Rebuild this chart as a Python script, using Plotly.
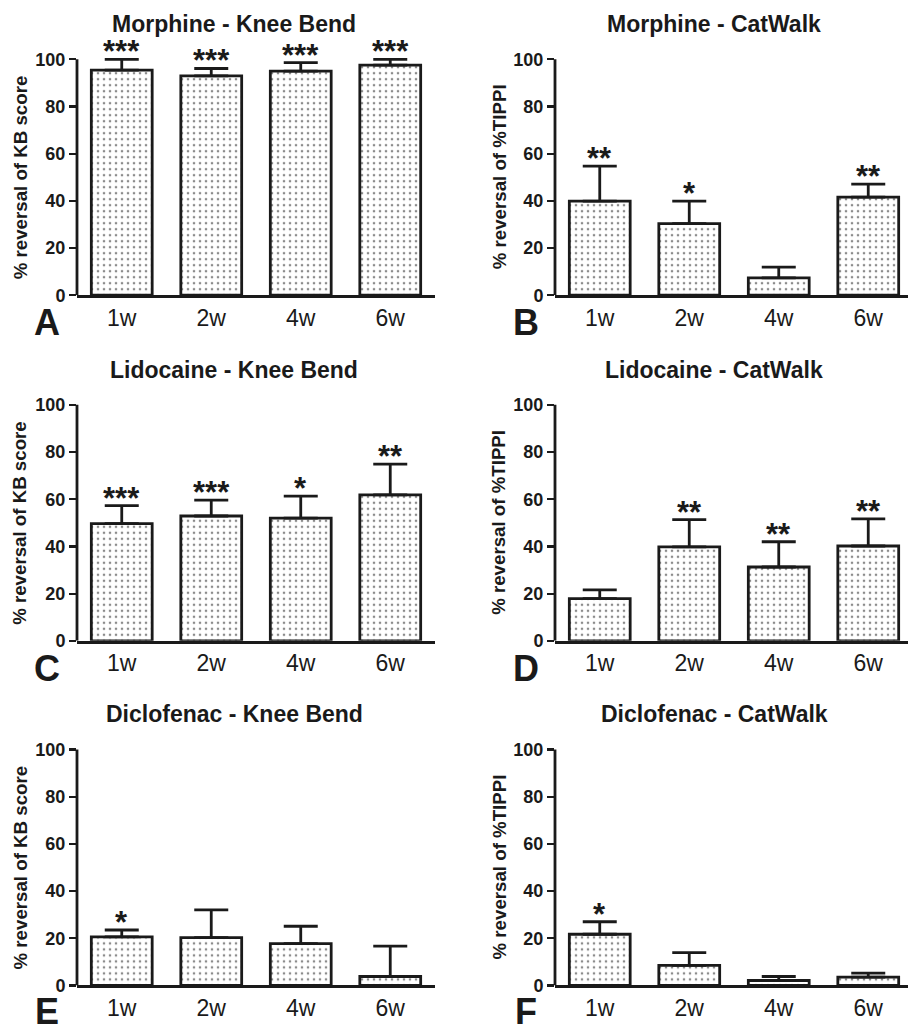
import plotly.graph_objects as go

W, H = 908, 1032

categories = ["1w", "2w", "4w", "6w"]

titles = ["Morphine - Knee Bend", "Morphine - CatWalk",
          "Lidocaine - Knee Bend", "Lidocaine - CatWalk",
          "Diclofenac - Knee Bend", "Diclofenac - CatWalk"]
letters = ["A", "B", "C", "D", "E", "F"]
ytitles = ["% reversal of KB score", "% reversal of %TIPPI"] * 3

morphine_kb = [95.4, 93.0, 95.0, 97.5]
morphine_kb_err = [4.6, 3.1, 3.6, 2.5]
morphine_cw = [39.9, 30.4, 7.4, 41.6]
morphine_cw_err = [14.8, 9.5, 4.5, 5.5]
lidocaine_kb = [49.7, 52.9, 52.0, 61.9]
lidocaine_kb_err = [7.6, 6.7, 9.3, 13.0]
lidocaine_cw = [17.9, 39.8, 31.3, 40.2]
lidocaine_cw_err = [3.7, 11.6, 10.7, 11.5]
diclofenac_kb = [20.6, 20.3, 17.7, 3.8]
diclofenac_kb_err = [2.9, 11.7, 7.4, 12.9]
diclofenac_cw = [21.7, 8.5, 2.1, 3.5]
diclofenac_cw_err = [5.3, 5.4, 1.7, 1.7]

stars_mkb = ["***", "***", "***", "***"]
stars_mcw = ["**", "*", "", "**"]
stars_lkb = ["***", "***", "*", "**"]
stars_lcw = ["", "**", "**", "**"]
stars_dkb = ["*", "", "", ""]
stars_dcw = ["*", "", "", ""]

values = [morphine_kb, morphine_cw, lidocaine_kb, lidocaine_cw, diclofenac_kb, diclofenac_cw]
errors = [morphine_kb_err, morphine_cw_err, lidocaine_kb_err, lidocaine_cw_err,
          diclofenac_kb_err, diclofenac_cw_err]
stars = [stars_mkb, stars_mcw, stars_lkb, stars_lcw, stars_dkb, stars_dcw]

# pixel layout
col_x0 = [77, 555]
cat_px = 89.5
col_x1 = [435, 908]
row_y0 = [296, 646, 995]   # pixel of y=0
row_y100 = [57, 407, 756]  # pixel of y=100
title_y = [21, 372, 720]
title_x = [234, 714]
ytitle_x = [20, 499]
letter_x = [47, 526]
letter_dy = [28, 28, 26]
ymax = 103

FONT = "Liberation Sans, Arial, sans-serif"
INK = "#1a1a1a"

fig = go.Figure()
annotations = []
shapes = []

for i in range(6):
    r, c = divmod(i, 2)
    n = i + 1
    xa = "x" if n == 1 else f"x{n}"
    ya = "y" if n == 1 else f"y{n}"
    x0, x1 = col_x0[c], col_x1[c]
    xr1 = -0.5 + (x1 - x0) / cat_px
    py0 = row_y0[r]
    ppu = (row_y0[r] - row_y100[r]) / 100.0
    ptop = py0 - ymax * ppu

    fig.add_trace(go.Bar(
        x=list(range(4)), y=values[i],
        xaxis=xa, yaxis=ya, width=0.68,
        marker=dict(color="white",
                    line=dict(color=INK, width=2.8),
                    pattern=dict(shape=".", fgcolor=INK, bgcolor="white",
                                 size=6, solidity=0.15)),
        error_y=dict(type="data", array=errors[i], arrayminus=[0] * 4,
                     symmetric=False, color=INK, thickness=2.8, width=17),
        showlegend=False, hoverinfo="skip",
    ))

    xkey = "xaxis" if n == 1 else f"xaxis{n}"
    ykey = "yaxis" if n == 1 else f"yaxis{n}"
    fig.update_layout(**{
        xkey: dict(domain=[x0 / W, x1 / W], range=[-0.5, xr1], anchor=ya,
                   tickmode="array", tickvals=list(range(4)), ticktext=categories,
                   showline=True, linecolor=INK, linewidth=2.8,
                   ticks="", showgrid=False, zeroline=False, fixedrange=True,
                   tickfont=dict(family=FONT, size=23, color=INK)),
        ykey: dict(domain=[1 - py0 / H, 1 - ptop / H], range=[0, ymax], anchor=xa,
                   tickmode="array", tickvals=[0, 20, 40, 60, 80, 100],
                   showline=False, ticks="outside", ticklen=7, tickwidth=2.2,
                   tickcolor=INK, showgrid=False, zeroline=False, fixedrange=True,
                   tickfont=dict(family=FONT, size=18, color=INK, weight="bold")),
    })
    # y axis line from 0 to 100
    shapes.append(dict(type="line", xref=f"{xa} domain", yref=ya,
                       x0=0, x1=0, y0=0, y1=100,
                       line=dict(color=INK, width=2.8)))

    for k in range(4):
        if stars[i][k]:
            annotations.append(dict(
                x=k, y=values[i][k] + errors[i][k], xref=xa, yref=ya,
                text=stars[i][k], showarrow=False, yanchor="bottom",
                yshift=-12,
                font=dict(family=FONT, size=31, color=INK, weight="bold")))

    annotations.append(dict(
        x=title_x[c] / W, y=1 - title_y[r] / H, xref="paper", yref="paper",
        text=f"<b>{titles[i]}</b>", showarrow=False, xanchor="center", yanchor="middle",
        font=dict(family=FONT, size=23, color=INK)))
    annotations.append(dict(
        x=ytitle_x[c] / W, y=1 - (py0 - 50 * ppu) / H, xref="paper", yref="paper",
        text=f"<b>{ytitles[i]}</b>", showarrow=False, textangle=-90,
        xanchor="center", yanchor="middle",
        font=dict(family=FONT, size=18.7, color=INK)))
    annotations.append(dict(
        x=letter_x[c] / W, y=1 - (py0 + letter_dy[r]) / H, xref="paper", yref="paper",
        text=f"<b>{letters[i]}</b>", showarrow=False, xanchor="center", yanchor="middle",
        font=dict(family=FONT, size=36, color=INK)))

fig.update_layout(width=W, height=H, margin=dict(l=0, r=0, t=0, b=0),
                  plot_bgcolor="white", paper_bgcolor="white",
                  annotations=annotations, shapes=shapes, bargap=0.3)

fig.write_html("out.html",
               config={"displayModeBar": False, "staticPlot": True},
               post_script="document.body.style.margin='0px';document.body.style.overflow='hidden';")
